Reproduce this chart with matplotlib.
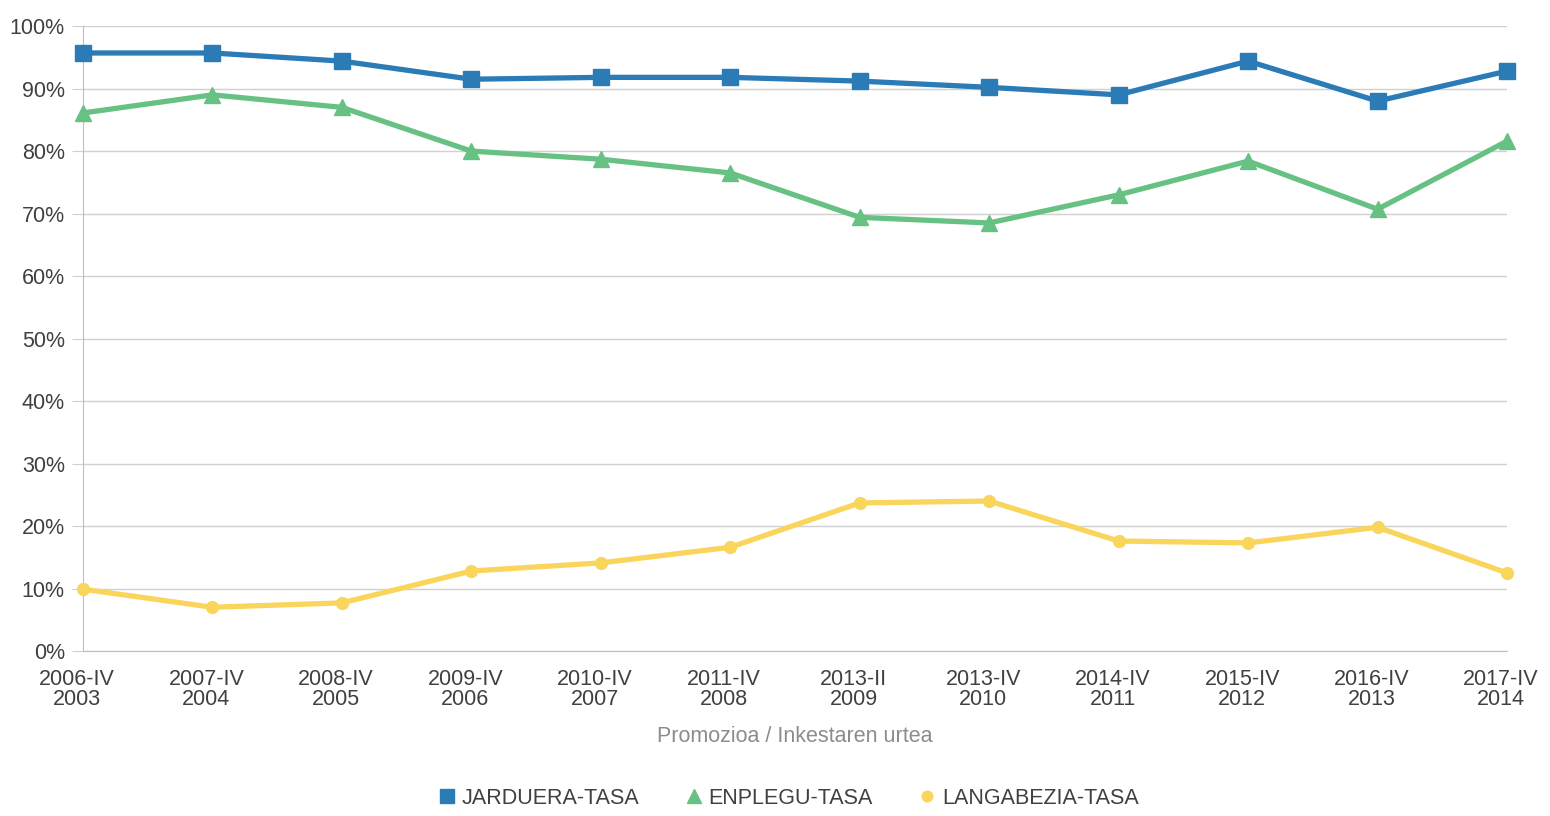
import numpy as np
import matplotlib.pyplot as plt
import matplotlib.transforms as mtransforms
from matplotlib.lines import Line2D

plt.rcParams['font.family'] = ['Liberation Sans', 'DejaVu Sans']

labels = ['2006-IV\n2003', '2007-IV\n2004', '2008-IV\n2005', '2009-IV\n2006',
          '2010-IV\n2007', '2011-IV\n2008', '2013-II\n2009', '2013-IV\n2010',
          '2014-IV\n2011', '2015-IV\n2012', '2016-IV\n2013', '2017-IV\n2014']

jarduera = [95.7, 95.7, 94.4, 91.5, 91.8, 91.8, 91.2, 90.2, 89.0, 94.4, 88.0, 92.8]
enplegu = [86.1, 89.0, 87.0, 80.0, 78.7, 76.5, 69.4, 68.5, 73.0, 78.4, 70.7, 81.6]
langabezia = [9.9, 7.0, 7.7, 12.8, 14.1, 16.6, 23.7, 24.0, 17.6, 17.3, 19.8, 12.5]

names = ['JARDUERA-TASA', 'ENPLEGU-TASA', 'LANGABEZIA-TASA']
colors = ['#2a7bb6', '#66c183', '#fad55b']
markers = ['s', '^', 'o']
msizes = [11, 11, 8.5]

fig = plt.figure(figsize=(15.5, 8.16), dpi=100)
ax = fig.add_axes([0.0535, 0.2022, 0.9188, 0.7658])

x = np.arange(len(labels))
for vals, c, m, ms in zip([jarduera, enplegu, langabezia], colors, markers, msizes):
    ax.plot(x, vals, color=c, lw=3.8, marker=m, ms=ms, mec=c, mfc=c, zorder=3, clip_on=False)

ax.set_xlim(0, len(labels) - 1)
ax.set_ylim(0, 100)
ax.set_yticks(range(0, 101, 10))
ax.set_yticklabels([f'{v}%' for v in range(0, 101, 10)])
ax.set_xticks(x)
ax.set_xticklabels(labels, linespacing=0.92)

ax.grid(axis='y', color='#d0d0d0', lw=1)
ax.set_axisbelow(True)
for s in ['top', 'right']:
    ax.spines[s].set_visible(False)
ax.spines['left'].set_color('#bfbfbf')
ax.spines['bottom'].set_color('#bfbfbf')
ax.tick_params(axis='y', length=8, color='#d0d0d0', labelsize=15.5, labelcolor='#404040', pad=5)
ax.tick_params(axis='x', length=0, labelsize=15.5, labelcolor='#404040', pad=13)

# category labels sit a little left of the points in the original
shift = mtransforms.ScaledTranslation(-6 / 100, 0, fig.dpi_scale_trans)
for lab in ax.get_xticklabels():
    lab.set_transform(lab.get_transform() + shift)

ax.set_xlabel('Promozioa / Inkestaren urtea', fontsize=15.5, color='#8c8c8c', labelpad=12)

handles = [Line2D([], [], ls='none', marker=m, color=c, ms=ms * 0.9) for c, m, ms in zip(colors, markers, msizes)]
fig.legend(handles, names, loc='center', bbox_to_anchor=(0.508, 0.022), ncol=3, frameon=False,
           fontsize=15.5, labelcolor='#404040', handletextpad=0.2, columnspacing=2.0, handlelength=1.0)

fig.savefig('out.png', dpi=100)
